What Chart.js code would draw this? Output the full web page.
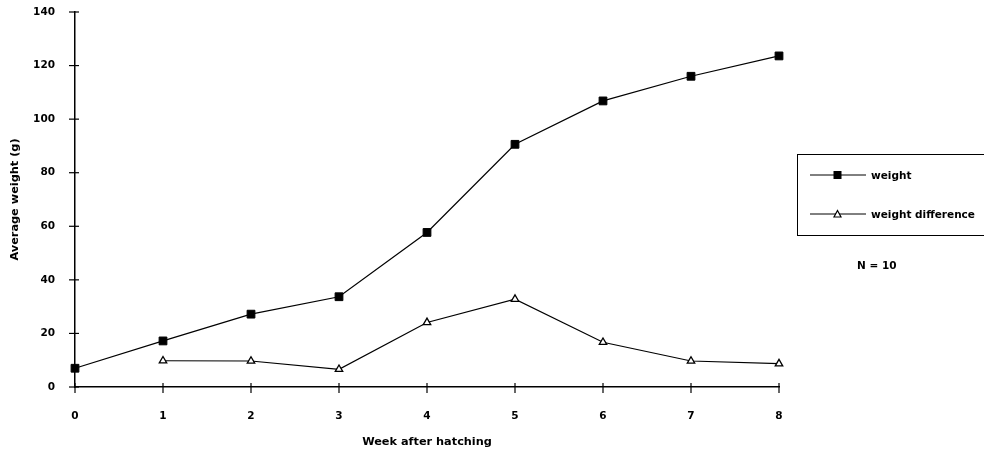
<!DOCTYPE html>
<html>
<head>
<meta charset="utf-8">
<script src="https://cdn.jsdelivr.net/npm/chart.js@4"></script>
<style>
    body { margin: 0; background: #fff; }
    #wrap { position: relative; width: 984px; height: 457px; font-family: "DejaVu Sans", sans-serif; }
    #legend { position: absolute; left: 797px; top: 154px; width: 200px; height: 82px; border: 1px solid #000; box-sizing: border-box; }
    .item { position: absolute; left: 12px; height: 14px; display: flex; align-items: center; font-size: 10.5px; font-weight: bold; color: #000; }
    .item svg { margin-right: 5px; }
    #note { position: absolute; left: 857px; top: 259px; font-size: 10.5px; font-weight: bold; color: #000; }
</style>
</head>
<body>
<div id="wrap">
    <canvas id="chart" width="984" height="457"></canvas>
    <div id="legend">
        <div class="item" style="top: 13px;">
            <svg width="56" height="10"><line x1="0" y1="5" x2="56" y2="5" stroke="#000" stroke-width="1"/><rect x="23.5" y="1" width="8" height="8" fill="#000"/></svg>weight
        </div>
        <div class="item" style="top: 52px;">
            <svg width="56" height="10"><line x1="0" y1="5" x2="56" y2="5" stroke="#000" stroke-width="1"/><polygon points="27.5,1.5 31,8 24,8" fill="#fff" stroke="#000" stroke-width="1.2"/></svg>weight difference
        </div>
    </div>
    <div id="note">N = 10</div>
</div>
<script>
    const weeks = [0, 1, 2, 3, 4, 5, 6, 7, 8];
    const weight = [7, 17.2, 27.2, 33.7, 57.7, 90.6, 106.8, 116, 123.6];
    const weightDiff = [null, 9.8, 9.7, 6.6, 24.1, 32.8, 16.7, 9.7, 8.7];

    // axis tick marks that cross the axis line
    const crossTicks = {
        id: 'crossTicks',
        afterDraw(chart) {
            const ctx = chart.ctx;
            const x = chart.scales.x;
            const y = chart.scales.y;
            const x0 = x.getPixelForValue(0);
            const y0 = y.getPixelForValue(0);
            ctx.save();
            ctx.strokeStyle = '#000';
            ctx.lineWidth = 1.2;
            x.ticks.forEach(t => {
                const px = x.getPixelForValue(t.value);
                ctx.beginPath();
                ctx.moveTo(px, y0 - 4);
                ctx.lineTo(px, y0 + 6);
                ctx.stroke();
            });
            y.ticks.forEach(t => {
                const py = y.getPixelForValue(t.value);
                ctx.beginPath();
                ctx.moveTo(x0 - 6, py);
                ctx.lineTo(x0 + 4, py);
                ctx.stroke();
            });
            ctx.restore();
        },
    };

    const font = { family: '"DejaVu Sans", sans-serif', size: 10.5, weight: 'bold' };
    const titleFont = { family: '"DejaVu Sans", sans-serif', size: 11.3, weight: 'bold' };

    new Chart(document.getElementById('chart').getContext('2d'), {
        type: 'line',
        data: {
            labels: weeks,
            datasets: [{
                label: 'weight',
                data: weeks.map((w, i) => ({ x: w, y: weight[i] })),
                borderColor: '#000',
                borderWidth: 1.2,
                backgroundColor: '#000',
                pointStyle: 'rect',
                pointRadius: 5.5,
                pointBorderWidth: 1,
                tension: 0,
                clip: false,
            }, {
                label: 'weight difference',
                data: weeks.map((w, i) => ({ x: w, y: weightDiff[i] })),
                borderColor: '#000',
                borderWidth: 1.2,
                backgroundColor: '#fff',
                pointStyle: 'triangle',
                pointRadius: 4.3,
                pointBorderWidth: 1.3,
                tension: 0,
                clip: false,
            }],
        },
        options: {
            responsive: false,
            animation: false,
            devicePixelRatio: 1,
            layout: { padding: { left: 0, right: 205, top: 12, bottom: 0 } },
            plugins: { legend: { display: false }, tooltip: { enabled: false } },
            scales: {
                x: {
                    type: 'linear',
                    min: 0,
                    max: 8,
                    afterFit(scale) { scale.height = 70; },
                    grid: { display: true, drawOnChartArea: false, drawTicks: false },
                    border: { display: true, color: '#000', width: 1.5 },
                    ticks: { stepSize: 1, padding: 23, color: '#000', font },
                    title: { display: true, text: 'Week after hatching', color: '#000', font: titleFont, padding: { top: 4, bottom: 8 } },
                },
                y: {
                    min: 0,
                    max: 140,
                    afterFit(scale) {
                        scale.width = 75;
                        scale.paddingTop = 0;
                        scale.paddingBottom = 0;
                    },
                    grid: { display: true, drawOnChartArea: false, drawTicks: false },
                    border: { display: true, color: '#000', width: 1.5 },
                    ticks: { stepSize: 20, padding: 20, color: '#000', font },
                    title: { display: true, text: 'Average weight (g)', color: '#000', font: titleFont, padding: { top: 8, bottom: 4 } },
                },
            },
        },
        plugins: [crossTicks],
    });
</script>
</body>
</html>
